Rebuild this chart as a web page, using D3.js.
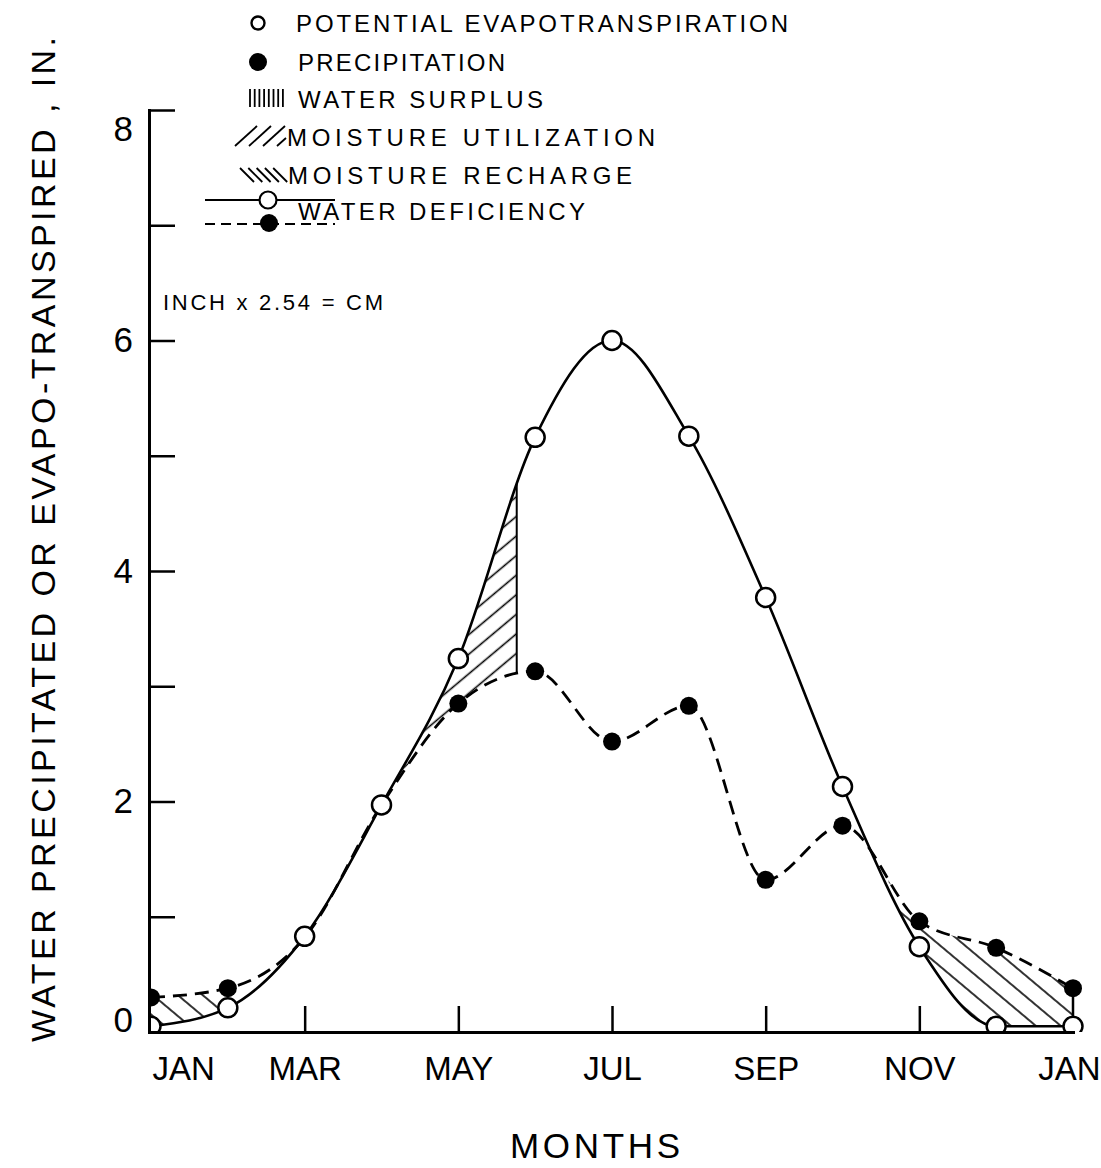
<!DOCTYPE html>
<html>
<head>
<meta charset="utf-8">
<script src="https://cdn.jsdelivr.net/npm/d3@7"></script>
<style>
    body { margin: 0; background: #fff; }
    svg text { font-family: "Liberation Sans", Arial, sans-serif; fill: #000; }
</style>
</head>
<body>
<div id="chart"></div>
<script>

// month index, 0 = Jan ... 12 = Jan of the next year
const months = [0, 1, 2, 3, 4, 5, 6, 7, 8, 9, 10, 11, 12];
const monthTicks = [0, 2, 4, 6, 8, 10, 12];
const monthLabels = ["JAN", "MAR", "MAY", "JUL", "SEP", "NOV", "JAN"];

// inches per month
const potentialET = [0.05, 0.21, 0.83, 1.97, 3.24, 5.16, 6.0, 5.17, 3.77, 2.13, 0.74, 0.05, 0.05];
const precipitation = [0.30, 0.38, 0.82, 1.97, 2.85, 3.13, 2.52, 2.83, 1.32, 1.79, 0.96, 0.73, 0.38];

const yTicks = [0, 1, 2, 3, 4, 5, 6, 7, 8];

// month spans of the hatched zones
const utilizationSpan = [3, 4.76];
const rechargeSpans = [[0, 0.9], [9.6, 12]];

const width = 1101, height = 1168;

let svg = d3.select("#chart").append("svg")
    .attr("width", width)
    .attr("height", height);

let x = d3.scaleLinear().domain([0, 12]).range([151, 1073]);
let y = d3.scaleLinear().domain([0, 8]).range([1032, 110]);

// hatch patterns
let defs = svg.append("defs");
function hatch(id, angle, gap) {
    let p = defs.append("pattern")
        .attr("id", id)
        .attr("patternUnits", "userSpaceOnUse")
        .attr("width", gap)
        .attr("height", gap)
        .attr("patternTransform", `rotate(${angle})`);
    p.append("line")
        .attr("x1", gap / 2).attr("x2", gap / 2)
        .attr("y1", -1).attr("y2", gap + 1)
        .attr("stroke", "#000")
        .attr("stroke-width", 1.6);
}
hatch("util", 50, 15);
hatch("rech", -50, 16);

// region between the two curves
let between = d3.area()
    .x((d, i) => x(months[i]))
    .y0((d, i) => y(precipitation[i]))
    .y1(d => y(d))
    .curve(d3.curveMonotoneX);

defs.append("clipPath").attr("id", "between")
    .append("path")
    .attr("d", between(potentialET));

defs.append("clipPath").attr("id", "plotClip")
    .append("rect")
    .attr("x", x(0)).attr("y", 0)
    .attr("width", width - x(0)).attr("height", y(0));

// hatched zones
let hatchG = svg.append("g").attr("clip-path", "url(#between)");

hatchG.append("rect")
    .attr("x", x(utilizationSpan[0]))
    .attr("width", x(utilizationSpan[1]) - x(utilizationSpan[0]))
    .attr("y", y(8))
    .attr("height", y(0) - y(8))
    .attr("fill", "url(#util)");

hatchG.selectAll(".rech")
    .data(rechargeSpans)
    .enter().append("rect")
    .attr("class", "rech")
    .attr("x", d => x(d[0]))
    .attr("width", d => x(d[1]) - x(d[0]))
    .attr("y", y(8))
    .attr("height", y(0) - y(8))
    .attr("fill", "url(#rech)");

// end of moisture utilization
hatchG.append("line")
    .attr("x1", x(utilizationSpan[1])).attr("x2", x(utilizationSpan[1]))
    .attr("y1", y(8)).attr("y2", y(0))
    .attr("stroke", "#000")
    .attr("stroke-width", 2);

// right edge of the recharge zone
svg.append("line")
    .attr("x1", x(12)).attr("x2", x(12))
    .attr("y1", y(potentialET[12])).attr("y2", y(precipitation[12]))
    .attr("stroke", "#000")
    .attr("stroke-width", 2.5);

// curves
let line = d3.line()
    .x((d, i) => x(months[i]))
    .y(d => y(d))
    .curve(d3.curveMonotoneX);

svg.append("path")
    .attr("d", line(precipitation))
    .attr("fill", "none")
    .attr("stroke", "#000")
    .attr("stroke-width", 2.8)
    .attr("stroke-dasharray", "14,8");

svg.append("path")
    .attr("d", line(potentialET))
    .attr("fill", "none")
    .attr("stroke", "#000")
    .attr("stroke-width", 2.6);

// points
let pts = svg.append("g").attr("clip-path", "url(#plotClip)");

pts.selectAll(".precip")
    .data(precipitation)
    .enter().append("circle")
    .attr("class", "precip")
    .attr("cx", (d, i) => x(months[i]))
    .attr("cy", d => y(d))
    .attr("r", 9)
    .attr("fill", "#000");

pts.selectAll(".pet")
    .data(potentialET)
    .enter().append("circle")
    .attr("class", "pet")
    .attr("cx", (d, i) => x(months[i]))
    .attr("cy", d => y(d))
    .attr("r", 9.5)
    .attr("fill", "#fff")
    .attr("stroke", "#000")
    .attr("stroke-width", 2.5);

// axes
let yAxis = svg.append("g")
    .attr("transform", "translate(149,0)")
    .call(d3.axisLeft(y)
        .tickValues(yTicks)
        .tickSizeInner(-26)
        .tickSizeOuter(0)
        .tickPadding(16)
        .tickFormat(d => d % 2 === 0 ? d : ""));

yAxis.selectAll("text")
    .attr("font-size", 35)
    .attr("y", d => d === 8 ? 19 : (d === 0 ? -12 : 0));

let xAxis = svg.append("g")
    .attr("transform", `translate(0,${y(0)})`)
    .call(d3.axisBottom(x)
        .tickValues(monthTicks)
        .tickSizeInner(-26)
        .tickSizeOuter(0)
        .tickPadding(25)
        .tickFormat((d, i) => monthLabels[i]));

xAxis.selectAll("text")
    .attr("font-size", 33)
    .attr("text-anchor", d => d === 0 ? "start" : "middle")
    .attr("x", d => d === 0 ? 1 : (d === 12 ? -4 : 0));

xAxis.selectAll(".tick line")
    .attr("display", d => (d === 0 || d === 12) ? "none" : null);

svg.selectAll(".domain")
    .attr("stroke-width", 3)
    .attr("stroke-linecap", "square");
svg.selectAll(".tick line")
    .attr("stroke-width", 2.5);

// axis titles
svg.append("text")
    .attr("transform", "translate(55,1042) rotate(-90)")
    .attr("font-size", 34)
    .attr("textLength", 1005)
    .attr("lengthAdjust", "spacing")
    .text("WATER  PRECIPITATED  OR  EVAPO-TRANSPIRED ,  IN.");

svg.append("text")
    .attr("x", 510)
    .attr("y", 1145)
    .attr("dy", "0.36em")
    .attr("font-size", 35)
    .attr("textLength", 170)
    .attr("lengthAdjust", "spacing")
    .text("MONTHS");

svg.append("text")
    .attr("x", 163)
    .attr("y", 302)
    .attr("dy", "0.36em")
    .attr("font-size", 22)
    .attr("textLength", 220)
    .attr("lengthAdjust", "spacing")
    .text("INCH  x 2.54 = CM");

// legend
let legend = svg.append("g").attr("class", "legend");

function legendText(str, tx, ty, len) {
    legend.append("text")
        .attr("x", tx)
        .attr("y", ty)
        .attr("dy", "0.36em")
        .attr("font-size", 24)
        .attr("textLength", len)
        .attr("lengthAdjust", "spacing")
        .text(str);
}

legend.append("circle")
    .attr("cx", 258).attr("cy", 23).attr("r", 6.5)
    .attr("fill", "#fff").attr("stroke", "#000").attr("stroke-width", 2.4);
legendText("POTENTIAL    EVAPOTRANSPIRATION", 296, 23, 492);

legend.append("circle")
    .attr("cx", 258).attr("cy", 62).attr("r", 9)
    .attr("fill", "#000");
legendText("PRECIPITATION", 298, 62, 207);

legend.selectAll(".bar")
    .data(d3.range(8))
    .enter().append("line")
    .attr("x1", d => 250 + d * 4.7).attr("x2", d => 250 + d * 4.7)
    .attr("y1", 89).attr("y2", 107)
    .attr("stroke", "#000").attr("stroke-width", 1.8);
legendText("WATER   SURPLUS", 298, 99, 245);

legend.selectAll(".util")
    .data([0, 1, 2, 3])
    .enter().append("line")
    .attr("x1", d => 235 + d * 14)
    .attr("y1", 146)
    .attr("x2", d => d === 3 ? 235 + d * 14 + 9 : 235 + d * 14 + 22)
    .attr("y2", d => d === 3 ? 138 : 126)
    .attr("stroke", "#000").attr("stroke-width", 1.8);
legendText("MOISTURE   UTILIZATION", 287, 137, 368);

legend.selectAll(".rechl")
    .data([0, 1, 2, 3, 4])
    .enter().append("line")
    .attr("x1", d => 240 + d * 8.3).attr("y1", 168)
    .attr("x2", d => 254 + d * 8.3).attr("y2", 182)
    .attr("stroke", "#000").attr("stroke-width", 1.8);
legendText("MOISTURE   RECHARGE", 288, 175, 344);

legend.append("line")
    .attr("x1", 205).attr("x2", 335)
    .attr("y1", 200).attr("y2", 200)
    .attr("stroke", "#000").attr("stroke-width", 2);
legend.append("circle")
    .attr("cx", 268).attr("cy", 200).attr("r", 8.5)
    .attr("fill", "#fff").attr("stroke", "#000").attr("stroke-width", 2.2);

legend.append("line")
    .attr("x1", 205).attr("x2", 335)
    .attr("y1", 224).attr("y2", 224)
    .attr("stroke", "#000").attr("stroke-width", 2)
    .attr("stroke-dasharray", "10,6");
legend.append("circle")
    .attr("cx", 269).attr("cy", 223).attr("r", 9)
    .attr("fill", "#000");
legendText("WATER   DEFICIENCY", 298, 211, 287);

</script>
</body>
</html>
